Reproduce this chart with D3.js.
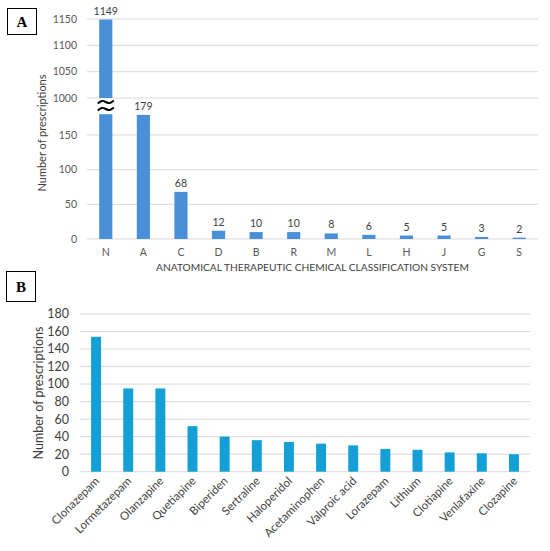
<!DOCTYPE html>
<html>
<head>
<meta charset="utf-8">
<script src="https://cdn.jsdelivr.net/npm/d3@7"></script>
<style>
  body { margin: 0; background: #fff; }
  svg { display: block; font-family: Lato, "Open Sans", sans-serif; }
  .grid line { stroke: #d9d9d9; stroke-width: 1; }
  .tick-label { fill: #595959; }
  .panel-box { fill: #fff; stroke: #000; stroke-width: 1; }
  .panel-tag { font-family: "Liberation Serif", "DejaVu Serif", serif; font-weight: bold; fill: #000; }
</style>
</head>
<body>
<svg id="chart" width="550" height="551"></svg>
<script>
// ---- Panel A: prescriptions by ATC group ----
const atcCodes  = ['N', 'A', 'C', 'D', 'B', 'R', 'M', 'L', 'H', 'J', 'G', 'S'];
const atcCounts = [1149, 179, 68, 12, 10, 10, 8, 6, 5, 5, 3, 2];
const atcTicksLow  = [0, 50, 100, 150];
const atcTicksHigh = [1000, 1050, 1100, 1150];

// ---- Panel B: most prescribed drugs ----
const drugNames  = ['Clonazepam', 'Lormetazepam', 'Olanzapine', 'Quetiapine', 'Biperiden', 'Sertraline',
  'Haloperidol', 'Acetaminophen', 'Valproic acid', 'Lorazepam', 'Lithium', 'Clotiapine', 'Venlafaxine', 'Clozapine'];
const drugCounts = [154, 95, 95, 52, 40, 36, 34, 32, 30, 26, 25, 22, 21, 20];
const drugTicks  = [0, 20, 40, 60, 80, 100, 120, 140, 160, 180];

const svg = d3.select('#chart');

// ============== PANEL A ==============
(() => {
  const left = 87, right = 538;
  const BREAK_LOW = 180;   // lower segment stops here
  const x = d3.scaleBand().domain(atcCodes).range([left, right])
    .paddingInner(0.65).paddingOuter(0.325);
  const yLo = d3.scaleLinear().domain([0, 150]).range([239, 135]);
  const yHi = d3.scaleLinear().domain([1000, 1150]).range([98, 19]);

  const g = svg.append('g');

  // gridlines
  const grid = g.append('g').attr('class', 'grid');
  grid.selectAll('line.lo').data(atcTicksLow).join('line')
    .attr('x1', left).attr('x2', right)
    .attr('y1', d => yLo(d)).attr('y2', d => yLo(d));
  grid.selectAll('line.hi').data(atcTicksHigh).join('line')
    .attr('x1', left).attr('x2', right)
    .attr('y1', d => yHi(d)).attr('y2', d => yHi(d));

  // y tick labels
  const allTicks = atcTicksLow.map(v => ({ v, y: yLo(v) }))
    .concat(atcTicksHigh.map(v => ({ v, y: yHi(v) })));
  g.selectAll('text.ytick').data(allTicks).join('text')
    .attr('class', 'tick-label')
    .attr('x', 77).attr('y', d => d.y).attr('dy', '0.35em')
    .attr('text-anchor', 'end').attr('font-size', 10.5)
    .text(d => d.v);

  const data = atcCodes.map((c, i) => ({ c, v: atcCounts[i] }));

  // bars (lower segment)
  g.selectAll('rect.lo').data(data).join('rect')
    .attr('fill', '#4a90d9')
    .attr('x', d => x(d.c)).attr('width', x.bandwidth())
    .attr('y', d => yLo(Math.min(d.v, BREAK_LOW)))
    .attr('height', d => yLo(0) - yLo(Math.min(d.v, BREAK_LOW)));

  // bars (upper segment, only for values above the break)
  const tall = data.filter(d => d.v > BREAK_LOW);
  g.selectAll('rect.hi').data(tall).join('rect')
    .attr('fill', '#4a90d9')
    .attr('x', d => x(d.c)).attr('width', x.bandwidth())
    .attr('y', d => yHi(d.v))
    .attr('height', d => yHi(1000) - yHi(d.v));

  // break marks
  const wave = d3.line().curve(d3.curveBasis);
  tall.forEach(d => {
    const cx = x(d.c) + x.bandwidth() / 2;
    [102, 109].forEach(yy => {
      const pts = [[cx - 8, yy + 1.5], [cx - 4, yy - 2], [cx, yy], [cx + 4, yy + 2], [cx + 8, yy - 1.5]];
      g.append('path').attr('d', wave(pts))
        .attr('fill', 'none').attr('stroke', '#000').attr('stroke-width', 2);
    });
  });

  // value labels
  g.selectAll('text.val').data(data).join('text')
    .attr('fill', '#404040').attr('font-size', 10.5)
    .attr('text-anchor', 'middle')
    .attr('x', d => x(d.c) + x.bandwidth() / 2)
    .attr('y', d => (d.v > BREAK_LOW ? yHi(d.v) : yLo(d.v)) - 5)
    .text(d => d.v);

  // x labels
  g.selectAll('text.xl').data(atcCodes).join('text')
    .attr('class', 'tick-label').attr('font-size', 10.5)
    .attr('text-anchor', 'middle')
    .attr('x', d => x(d) + x.bandwidth() / 2).attr('y', 256)
    .text(d => d);

  g.append('text')
    .attr('fill', '#404040').attr('font-size', 10.2)
    .attr('text-anchor', 'middle')
    .attr('x', (left + right) / 2).attr('y', 271)
    .text('ANATOMICAL THERAPEUTIC CHEMICAL CLASSIFICATION SYSTEM');

  g.append('text')
    .attr('fill', '#404040').attr('font-size', 11)
    .attr('text-anchor', 'middle')
    .attr('transform', 'translate(46,133) rotate(-90)')
    .text('Number of prescriptions');

  // panel tag
  g.append('rect').attr('class', 'panel-box').attr('x', 7.5).attr('y', 8.5).attr('width', 29).attr('height', 26);
  g.append('text').attr('class', 'panel-tag').attr('font-size', 15)
    .attr('x', 22).attr('y', 27).attr('text-anchor', 'middle').text('A');
})();

// ============== PANEL B ==============
(() => {
  const left = 80, right = 530;
  const x = d3.scaleBand().domain(drugNames).range([left, right])
    .paddingInner(0.69).paddingOuter(0.345);
  const y = d3.scaleLinear().domain([0, 180]).range([471.7, 314]);

  const g = svg.append('g');

  g.append('g').attr('class', 'grid')
    .selectAll('line').data(drugTicks).join('line')
    .attr('x1', left).attr('x2', right)
    .attr('y1', d => y(d)).attr('y2', d => y(d));

  g.selectAll('text.ytick').data(drugTicks).join('text')
    .attr('fill', '#404040')
    .attr('x', 69).attr('y', d => y(d)).attr('dy', '0.35em')
    .attr('text-anchor', 'end').attr('font-size', 12.5)
    .text(d => d);

  g.selectAll('rect.bar').data(drugNames).join('rect')
    .attr('fill', '#14a0d7')
    .attr('x', d => x(d)).attr('width', x.bandwidth())
    .attr('y', (d, i) => y(drugCounts[i]))
    .attr('height', (d, i) => y(0) - y(drugCounts[i]));

  g.selectAll('text.xl').data(drugNames).join('text')
    .attr('fill', '#404040').attr('font-size', 11.5)
    .attr('text-anchor', 'end')
    .attr('transform', d => `translate(${x(d) + x.bandwidth() / 2 + 4},${y(0) + 10}) rotate(-45)`)
    .text(d => d);

  g.append('text')
    .attr('fill', '#404040').attr('font-size', 12.5)
    .attr('text-anchor', 'middle')
    .attr('transform', 'translate(43,393) rotate(-90)')
    .text('Number of prescriptions');

  g.append('rect').attr('class', 'panel-box').attr('x', 6.5).attr('y', 271.5).attr('width', 29).attr('height', 30);
  g.append('text').attr('class', 'panel-tag').attr('font-size', 15)
    .attr('x', 21).attr('y', 292).attr('text-anchor', 'middle').text('B');
})();
</script>
</body>
</html>
